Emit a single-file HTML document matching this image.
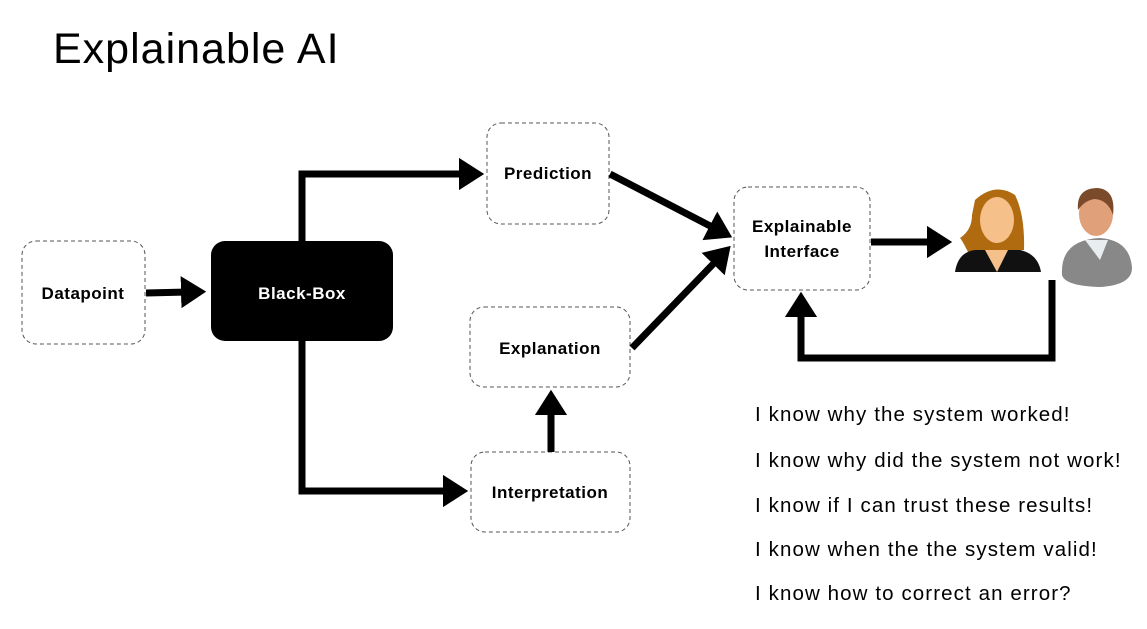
<!DOCTYPE html>
<html><head><meta charset="utf-8"><style>
body{margin:0;width:1147px;height:629px;background:#fff;overflow:hidden;position:relative;font-family:"Liberation Sans",sans-serif}
.t{position:absolute;left:53px;top:25px;font-size:43px;letter-spacing:1px;color:#000}
.l{position:absolute;left:755px;font-size:20.5px;letter-spacing:1.1px;color:#000;white-space:nowrap}
</style></head><body>
<div class="t">Explainable AI</div>
<svg width="1147" height="629" style="position:absolute;left:0;top:0" font-family="Liberation Sans, sans-serif" font-weight="bold" font-size="17" letter-spacing="0.5">
<defs>
<marker id="a" markerWidth="4" markerHeight="5" refX="1" refY="2.5" orient="auto" markerUnits="strokeWidth"><path d="M0,0.2 L3.6,2.5 L0,4.8z" fill="#000"/></marker>
</defs>
<g fill="none" stroke="#555" stroke-dasharray="4,3" stroke-width="1">
<rect x="22" y="241" width="123" height="103" rx="14"/>
<rect x="487" y="123" width="122" height="101" rx="14"/>
<rect x="470" y="307" width="160" height="80" rx="14"/>
<rect x="471" y="452" width="159" height="80" rx="14"/>
<rect x="734" y="187" width="136" height="103" rx="14"/>
</g>
<rect x="211" y="241" width="182" height="100" rx="14" fill="#000"/>
<g stroke="#000" stroke-width="7" fill="none">
<path d="M146 293 L188 292" marker-end="url(#a)"/>
<path d="M302 241 V174 H466" marker-end="url(#a)"/>
<path d="M302 341 V491 H450" marker-end="url(#a)"/>
<path d="M551 452 V408" marker-end="url(#a)"/>
<path d="M610 174 L716 229" marker-end="url(#a)"/>
<path d="M632 348 L718 259" marker-end="url(#a)"/>
<path d="M871 242 L934 242" marker-end="url(#a)"/>
<path d="M1052 280 V358 H801 V310" marker-end="url(#a)"/>
</g>
<g text-anchor="middle">
<text x="83" y="299">Datapoint</text>
<text x="302" y="299" fill="#fff">Black-Box</text>
<text x="548" y="179">Prediction</text>
<text x="550" y="354">Explanation</text>
<text x="550" y="498">Interpretation</text>
<text x="802" y="232">Explainable</text>
<text x="802" y="257">Interface</text>
</g>
<path d="M975 200 Q995 182 1015 195 Q1025 215 1024 250 L968 252 Q962 240 960 238 Q972 230 972 215 Z" fill="#b06a10"/>
<ellipse cx="997" cy="220" rx="17" ry="23" fill="#f5c08a"/>
<path d="M955 272 Q958 252 975 250 L1020 250 Q1038 254 1041 272 Z" fill="#111"/>
<path d="M985 250 L997 272 L1008 250 Z" fill="#f5c08a"/>
<path d="M1062 275 Q1060 240 1100 238 Q1130 240 1132 268 Q1132 285 1100 287 Q1065 286 1062 275Z" fill="#888"/>
<path d="M1085 240 L1100 260 L1108 240Z" fill="#e8eef0"/>
<ellipse cx="1096" cy="214" rx="17" ry="22" fill="#e0a07a"/>
<path d="M1078 210 Q1076 188 1098 188 Q1116 190 1113 215 Q1108 200 1095 199 Q1085 200 1078 210Z" fill="#7a4a2a"/>
</svg>
<div class="l" style="top:403px">I know why the system worked!</div>
<div class="l" style="top:449px">I know why did the system not work!</div>
<div class="l" style="top:494px">I know if I can trust these results!</div>
<div class="l" style="top:538px">I know when the the system valid!</div>
<div class="l" style="top:582px">I know how to correct an error?</div>
</body></html>
